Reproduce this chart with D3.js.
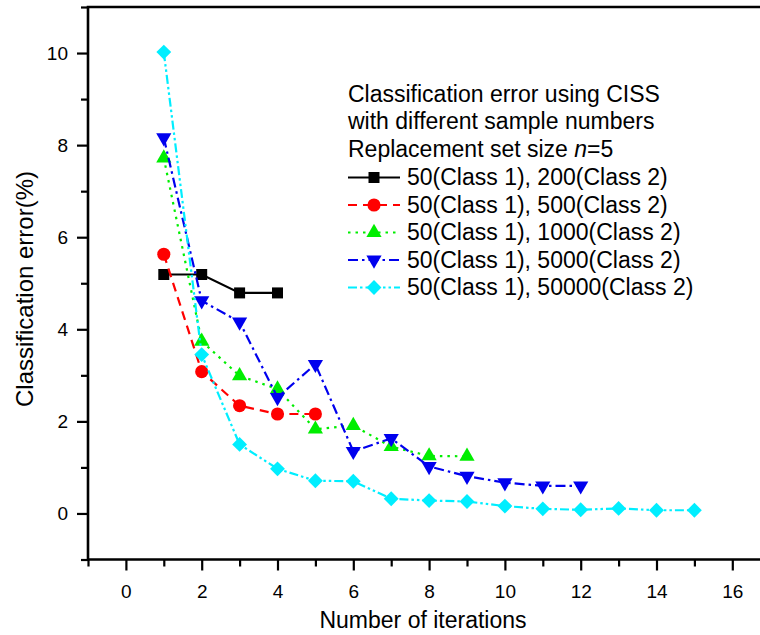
<!DOCTYPE html>
<html>
<head>
<meta charset="utf-8">
<script src="https://cdn.jsdelivr.net/npm/d3@7"></script>
<style>
  html, body { margin: 0; padding: 0; background: #fff; }
  svg { display: block; font-family: "Liberation Sans", Arial, sans-serif; }
</style>
</head>
<body>
<svg id="chart" width="760" height="635"></svg>
<script>
// ---- data ----
const iterBlack = [1, 2, 3, 4];
const errBlack  = [5.19, 5.19, 4.79, 4.79];
const iterRed   = [1, 2, 3, 4, 5];
const errRed    = [5.63, 3.08, 2.34, 2.16, 2.16];
const iterGreen = [1, 2, 3, 4, 5, 6, 7, 8, 9];
const errGreen  = [7.72, 3.74, 2.99, 2.70, 1.83, 1.91, 1.45, 1.25, 1.24];
const iterBlue  = [1, 2, 3, 4, 5, 6, 7, 8, 9, 10, 11, 12];
const errBlue   = [8.16, 4.62, 4.16, 2.52, 3.24, 1.35, 1.63, 1.02, 0.81, 0.67, 0.60, 0.60];
const iterCyan  = [1, 2, 3, 4, 5, 6, 7, 8, 9, 10, 11, 12, 13, 14, 15];
const errCyan   = [10.02, 3.45, 1.50, 0.97, 0.71, 0.70, 0.32, 0.28, 0.26, 0.16, 0.10, 0.08, 0.11, 0.07, 0.07];
const seriesNames = [
  "50(Class 1), 200(Class 2)",
  "50(Class 1), 500(Class 2)",
  "50(Class 1), 1000(Class 2)",
  "50(Class 1), 5000(Class 2)",
  "50(Class 1), 50000(Class 2)"
];
const xMajorTicks = [0, 2, 4, 6, 8, 10, 12, 14, 16];
const xMinorTicks = [-1, 1, 3, 5, 7, 9, 11, 13, 15, 17];
const yMajorTicks = [0, 2, 4, 6, 8, 10];
const yMinorTicks = [-1, 1, 3, 5, 7, 9, 11];
const legendTitle = ["Classification error using CISS", "with different sample numbers"];
const xTitle = "Number of iterations";
const yTitle = "Classification error(%)";

// ---- styles ----
const styles = [
  { color: "#000000", dash: null,            shape: "square" },
  { color: "#ff0000", dash: "9,6",           shape: "circle" },
  { color: "#00ee00", dash: "2.5,5",         shape: "triUp" },
  { color: "#0000ee", dash: "10,4,2.5,4",    shape: "triDown" },
  { color: "#00eeff", dash: "9,3,2.5,3,2.5,3", shape: "diamond" }
];
const series = [
  { x: iterBlack, y: errBlack },
  { x: iterRed,   y: errRed },
  { x: iterGreen, y: errGreen },
  { x: iterBlue,  y: errBlue },
  { x: iterCyan,  y: errCyan }
].map((s, i) => ({ ...s, name: seriesNames[i], ...styles[i] }));

const svg = d3.select("#chart");
const x = d3.scaleLinear().domain([-1, 17]).range([88, 770.2]);
const y = d3.scaleLinear().domain([-1, 11]).range([559.5, 7]);

function symbolPath(shape) {
  switch (shape) {
    case "square":  return { d: d3.symbol(d3.symbolSquare, 121)(), rot: 0 };
    case "circle":  return { d: d3.symbol(d3.symbolCircle, 135)(), rot: 0 };
    case "triUp":   return { d: d3.symbol(d3.symbolTriangle, 100)(), rot: 0 };
    case "triDown": return { d: d3.symbol(d3.symbolTriangle, 100)(), rot: 180 };
    case "diamond": return { d: d3.symbol(d3.symbolSquare, 110)(), rot: 45 };
  }
}

// ---- axes ----
const axisG = svg.append("g");
function styleAxis(g) {
  g.select(".domain").remove();
  g.selectAll(".tick line").attr("stroke", "#000").attr("stroke-width", 2.2);
  g.selectAll(".tick text").attr("fill", "#000").style("font-size", "19px")
    .style("font-family", "'Liberation Sans', Arial, sans-serif");
}
axisG.append("g").attr("transform", `translate(88,0)`)
  .call(d3.axisLeft(y).tickValues(yMajorTicks).tickSize(11).tickPadding(9).tickFormat(d3.format("d")))
  .call(styleAxis);
axisG.append("g").attr("transform", `translate(88,0)`)
  .call(d3.axisLeft(y).tickValues(yMinorTicks).tickSize(7).tickFormat(""))
  .call(styleAxis);
axisG.append("g").attr("transform", `translate(0,559.5)`)
  .call(d3.axisBottom(x).tickValues(xMajorTicks).tickSize(11).tickPadding(14).tickFormat(d3.format("d")))
  .call(styleAxis);
axisG.append("g").attr("transform", `translate(0,559.5)`)
  .call(d3.axisBottom(x).tickValues(xMinorTicks).tickSize(7).tickFormat(""))
  .call(styleAxis);

// frame
axisG.append("path")
  .attr("d", `M${x(-1)},${y(-1)}V${y(11)}M${x(-1) - 1.3},${y(11)}H${x(17)}M${x(-1) - 1.3},${y(-1)}H${x(17)}`)
  .attr("fill", "none").attr("stroke", "#000").attr("stroke-width", 2.6);

// axis titles
svg.append("text").attr("x", 423).attr("y", 628).attr("text-anchor", "middle")
  .style("font-size", "23px").text(xTitle);
svg.append("text").attr("transform", "translate(33,289) rotate(-90)").attr("text-anchor", "middle")
  .style("font-size", "24px").text(yTitle);

// ---- series ----
const line = d3.line();
const plot = svg.append("g");
series.forEach(s => {
  const pts = s.x.map((xv, i) => [x(xv), y(s.y[i])]);
  plot.append("path").attr("d", line(pts)).attr("fill", "none")
    .attr("stroke", s.color).attr("stroke-width", 2.2)
    .attr("stroke-dasharray", s.dash);
  const sym = symbolPath(s.shape);
  plot.selectAll(null).data(pts).enter().append("path")
    .attr("d", sym.d)
    .attr("transform", d => `translate(${d[0]},${d[1]}) rotate(${sym.rot})`)
    .attr("fill", s.color);
});

// ---- legend ----
const lg = svg.append("g").style("font-size", "23px");
lg.append("text").attr("x", 348).attr("y", 101.5).text(legendTitle[0]);
lg.append("text").attr("x", 348).attr("y", 129).text(legendTitle[1]);
const t3 = lg.append("text").attr("x", 348).attr("y", 156.5);
t3.append("tspan").text("Replacement set size ");
t3.append("tspan").style("font-style", "italic").text("n");
t3.append("tspan").text("=5");
series.forEach((s, i) => {
  const by = 185 + i * 27.5;
  const cy = by - 7.5;
  lg.append("line").attr("x1", 348).attr("x2", 400).attr("y1", cy).attr("y2", cy)
    .attr("stroke", s.color).attr("stroke-width", 2.2).attr("stroke-dasharray", s.dash);
  const sym = symbolPath(s.shape);
  lg.append("path").attr("d", sym.d)
    .attr("transform", `translate(374,${cy}) rotate(${sym.rot})`).attr("fill", s.color);
  lg.append("text").attr("x", 407).attr("y", by).text(s.name);
});
</script>
</body>
</html>
